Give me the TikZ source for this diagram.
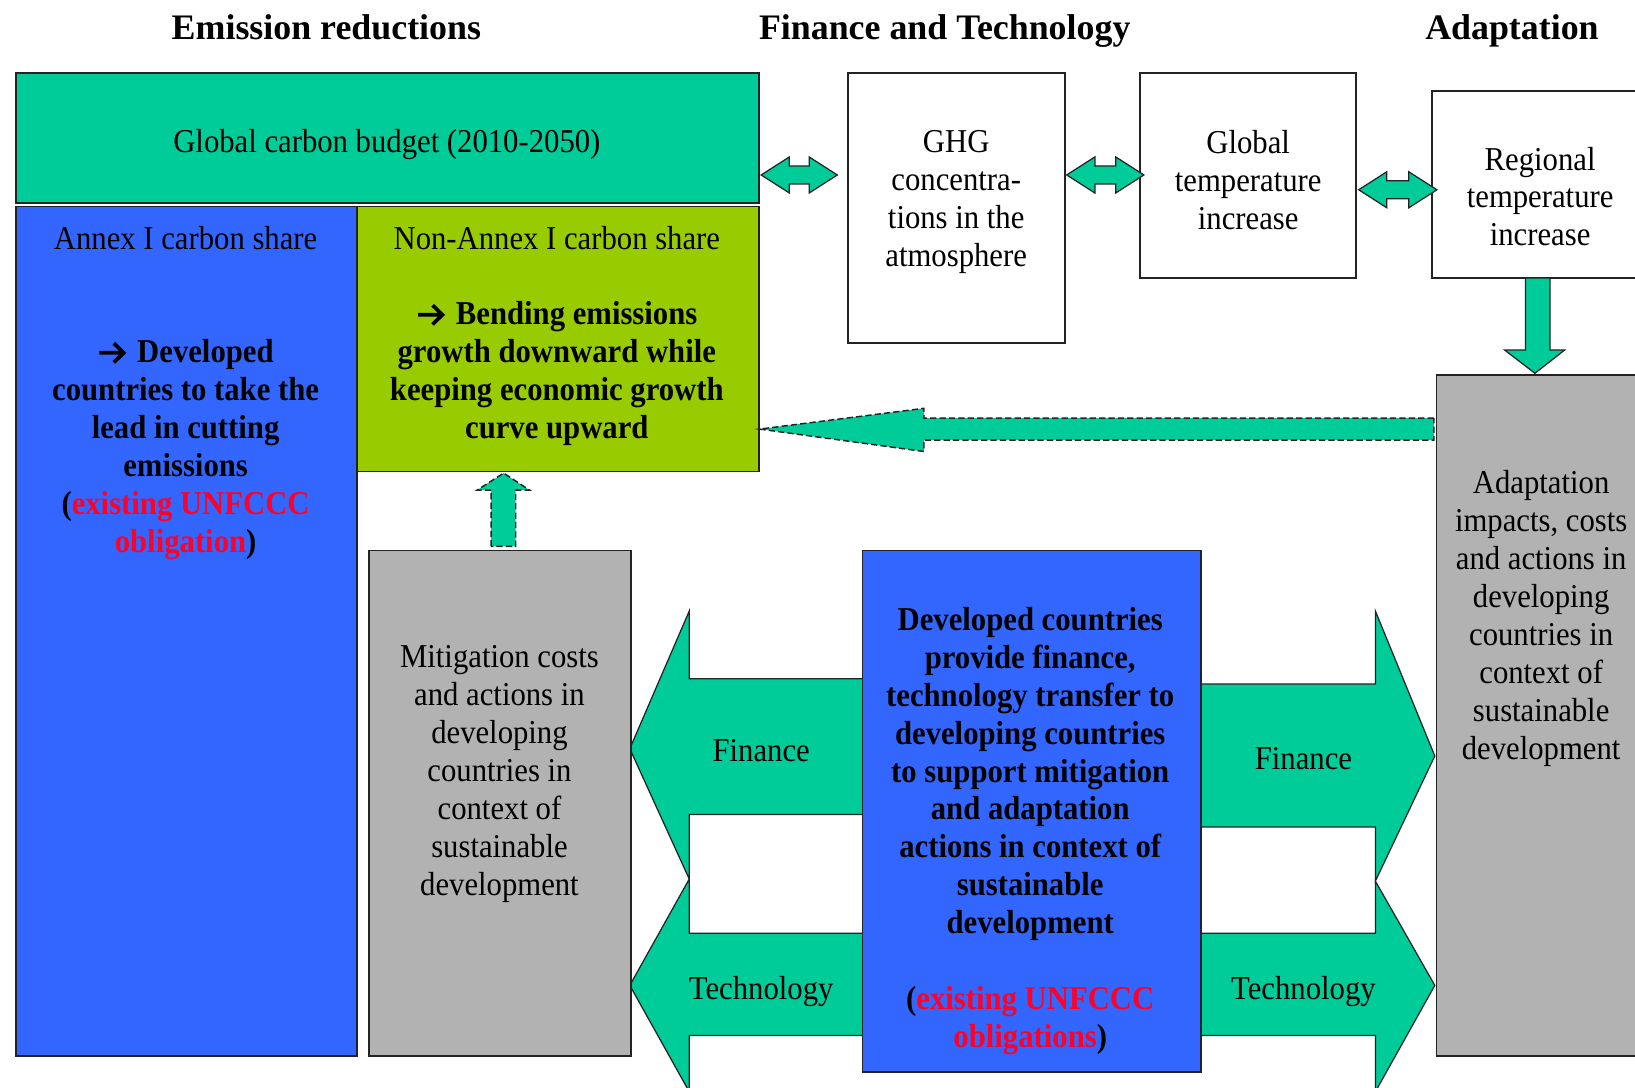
\documentclass[tikz,border=0pt]{standalone}
\usepackage{fontspec}
\setmainfont{Liberation Serif}[FakeStretch=0.92]
\newfontfamily\headserif{Liberation Serif}
\usetikzlibrary{fit}

\definecolor{budget}{RGB}{0,204,153}
\definecolor{annexblue}{RGB}{51,102,255}
\definecolor{lime}{RGB}{153,204,0}
\definecolor{panelgray}{RGB}{178,178,178}
\definecolor{oblig}{RGB}{255,0,40}
\definecolor{edge}{RGB}{35,35,35}

\newcommand\bodysize{\fontsize{16}{18.2}\selectfont}
\newcommand\headsize{\headserif\fontsize{17.2}{20}\selectfont\bfseries}
% heavy arrow glyph used in front of the key messages
\newcommand\ra{\tikz[x=1pt,y=1pt,baseline=0pt]
  \draw[line width=1.8pt,line join=miter] (0,4.6)--(11.6,4.6)
    (6.9,9.2)--(11.6,4.6)--(6.9,0);\hspace{0.35em}}
\newcommand\oblg[1]{\textcolor{oblig}{#1}}

% two-headed block arrow: left tip x, right tip x, centre y
\newcommand\TwoWay[3]{%
  \draw[blockarrow] (#1,#3) -- (#1+27,#3-17.3) -- (#1+27,#3-8.6)
    -- (#2-27,#3-8.6) -- (#2-27,#3-17.3) -- (#2,#3)
    -- (#2-27,#3+17.3) -- (#2-27,#3+8.6) -- (#1+27,#3+8.6)
    -- (#1+27,#3+17.3) -- cycle;}

\begin{document}
\begin{tikzpicture}[x=0.5pt,y=-0.5pt,
  box/.style={draw=edge, line width=0.8pt, inner sep=0pt},
  txt/.style={align=center, inner sep=0pt, font=\bodysize},
  line/.style={inner sep=0pt, anchor=base, font=\bodysize},
  bold/.style={txt, font=\bodysize\bfseries},
  head/.style={inner sep=0pt, anchor=base, font=\headsize},
  blockarrow/.style={fill=budget, draw=edge, line width=0.6pt, line join=miter},
  dasharrow/.style={fill=budget, draw=edge, line width=0.7pt,
    dash pattern=on 3pt off 1.5pt, line join=miter}]

\clip (0,0) rectangle (1568,1043);
\fill[white] (0,0) rectangle (1568,1043);

% column headings
\node[head] (hEm) at (313,38) {Emission reductions};
\node[head] (hFin) at (906,38) {Finance and Technology};
\node[head] (hAd) at (1450,38) {Adaptation};

% large finance / technology arrows
\draw[blockarrow] (827,651) -- (661,651) -- (661,586) -- (604,718)
  -- (661,843) -- (661,781) -- (827,781);
\draw[blockarrow] (827,895) -- (661,895) -- (661,843) -- (604,945)
  -- (661,1047) -- (661,993) -- (827,993);
\draw[blockarrow] (1151,656) -- (1319,656) -- (1319,586) -- (1376,725)
  -- (1319,845) -- (1319,793) -- (1151,793);
\draw[blockarrow] (1151,895) -- (1319,895) -- (1319,845) -- (1376,945)
  -- (1319,1047) -- (1319,993) -- (1151,993);
\node[line] (finL) at (730,730.5) {Finance};
\node[line] (tecL) at (730,958.5) {Technology};
\node[line] (finR) at (1250,737.5) {Finance};
\node[line] (tecR) at (1250,958.5) {Technology};

% boxes
\node[box, fill=budget, fit={(15.5,70.3) (727.8,195)}] (gcb) {};
\node[box, fill=annexblue, fit={(15.5,198) (342.4,1013)}] (annex) {};
\node[box, fill=lime, fit={(342.4,198) (727.8,452.3)}] (nonannex) {};
\node[box, fill=white, fit={(813,70.3) (1021.5,329)}] (ghg) {};
\node[box, fill=white, fit={(1093,70.3) (1300.6,266.7)}] (gtemp) {};
\node[box, fill=white, fit={(1373.5,87) (1600,266.7)}] (rtemp) {};
\node[box, fill=panelgray, fit={(1377.6,359.6) (1600,1013)}] (adapt) {};
\node[box, fill=panelgray, fit={(354,528) (605,1013)}] (mitig) {};
\node[box, fill=annexblue, fit={(827,528) (1151.5,1028)}] (dev) {};

% texts in boxes
\node[line] (tgcb) at (371,146.5) {Global carbon budget (2010-2050)};
\node[line] (tann) at (178,239.5) {Annex I carbon share};
\node[bold] (tannb) at (178,431) {\ra Developed\\countries to take the\\lead in cutting\\emissions\\(\oblg{existing UNFCCC}\\\oblg{obligation})};
\node[line] (tnon) at (534,239.5) {Non-Annex I carbon share};
\node[bold] (tnonb) at (534,358) {\ra Bending emissions\\growth downward while\\keeping economic growth\\curve upward};
\node[txt] (tghg) at (917,194) {GHG\\concentra-\\tions in the\\atmosphere};
\node[txt] (tgt) at (1197,172.5) {Global\\temperature\\increase};
\node[txt] (trt) at (1477,188.5) {Regional\\temperature\\increase};
\node[txt] (tad) at (1478,593) {Adaptation\\impacts, costs\\and actions in\\developing\\countries in\\context of\\sustainable\\development};
\node[txt] (tmit) at (479,742) {Mitigation costs\\and actions in\\developing\\countries in\\context of\\sustainable\\development};
\node[bold] (tdev) at (988,797) {Developed countries\\provide finance,\\technology transfer to\\developing countries\\to support mitigation\\and adaptation\\actions in context of\\sustainable\\development\\[18.2pt](\oblg{existing UNFCCC}\\\oblg{obligations})};

% links along the causal chain
\TwoWay{730}{803}{167.8}
\TwoWay{1023}{1097}{167.8}
\TwoWay{1303}{1378}{182}

% regional temperature feeds adaptation
\draw[blockarrow] (1463,266.7) -- (1486.5,266.7) -- (1486.5,335.7) -- (1500.5,335.7)
  -- (1472,358) -- (1443,335.7) -- (1463,335.7) -- cycle;

% adaptation feeds back to non-Annex I (dashed)
\draw[dasharrow] (1375,401) -- (886,401) -- (886,391.6) -- (728.5,411.5)
  -- (886,433) -- (886,422) -- (1375,422) -- cycle;

% mitigation supports non-Annex I (dashed)
\draw[dasharrow] (471,524) -- (471,470) -- (457.6,470) -- (483,453.7)
  -- (507.8,470) -- (494.6,470) -- (494.6,524) -- cycle;
\end{tikzpicture}
\end{document}
